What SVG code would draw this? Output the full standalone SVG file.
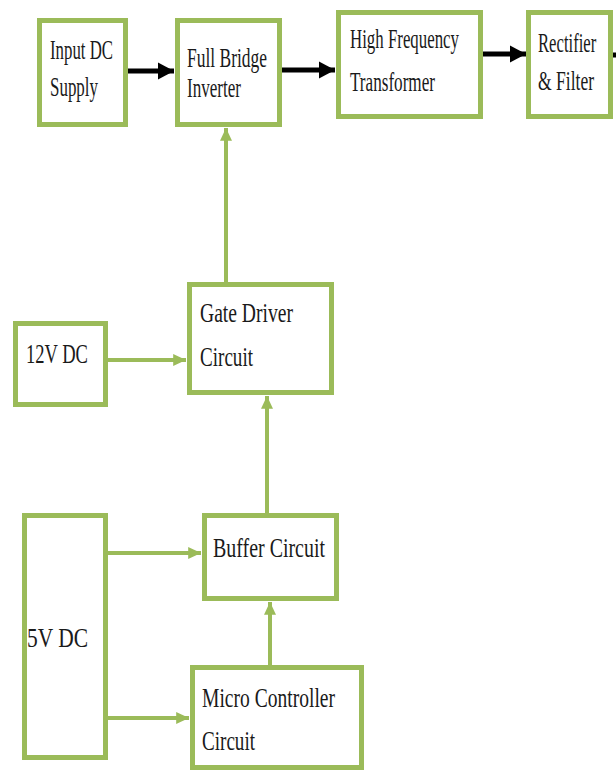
<svg xmlns="http://www.w3.org/2000/svg" width="616" height="772" viewBox="0 0 616 772">
<style>
.box{fill:#ffffff;stroke:#9bbb59;stroke-width:5}
.bk{stroke:#000;stroke-width:5;fill:none}
.gr{stroke:#9bbb59;stroke-width:4;fill:none}
</style>
<defs>
<marker id="ab" markerWidth="4" markerHeight="4" refX="3.2" refY="2" orient="auto" markerUnits="strokeWidth">
<path d="M0,0.3 L3.2,2 L0,3.7 Z" fill="#000"/>
</marker>
<marker id="ag" markerWidth="4" markerHeight="4" refX="3.2" refY="2" orient="auto" markerUnits="strokeWidth">
<path d="M0,0.5 L3.2,2 L0,3.5 Z" fill="#9bbb59"/>
</marker>
</defs>
<rect width="616" height="772" fill="#ffffff"/>
<g id="connectors">
<line class="bk" x1="128" y1="71" x2="174" y2="71" marker-end="url(#ab)"/>
<line class="bk" x1="282" y1="70" x2="335" y2="70" marker-end="url(#ab)"/>
<line class="bk" x1="483" y1="54" x2="526" y2="54" marker-end="url(#ab)"/>
<line class="bk" x1="613" y1="55" x2="616" y2="55"/>
<line class="gr" x1="226" y1="282" x2="226" y2="128" marker-end="url(#ag)"/>
<line class="gr" x1="108" y1="360" x2="186" y2="360" marker-end="url(#ag)"/>
<line class="gr" x1="267" y1="513" x2="267" y2="396" marker-end="url(#ag)"/>
<line class="gr" x1="108" y1="553" x2="201" y2="553" marker-end="url(#ag)"/>
<line class="gr" x1="270" y1="665" x2="270" y2="602" marker-end="url(#ag)"/>
<line class="gr" x1="108" y1="718" x2="189" y2="718" marker-end="url(#ag)"/>
</g>
<g font-family="'Liberation Serif', 'DejaVu Serif', serif" font-size="27" fill="#1a1a1a">
<g id="input-dc">
<rect class="box" x="39.5" y="20.5" width="86" height="104"/>
<text x="50" y="59" textLength="63" lengthAdjust="spacingAndGlyphs">Input DC</text>
<text x="50" y="96" textLength="48" lengthAdjust="spacingAndGlyphs">Supply</text>
</g>
<g id="full-bridge">
<rect class="box" x="177.5" y="20.5" width="102" height="104"/>
<text x="187" y="67" textLength="80" lengthAdjust="spacingAndGlyphs">Full Bridge</text>
<text x="187" y="97" textLength="54" lengthAdjust="spacingAndGlyphs">Inverter</text>
</g>
<g id="hf-transformer">
<rect class="box" x="338.5" y="12.5" width="142" height="104"/>
<text x="350" y="48" textLength="109" lengthAdjust="spacingAndGlyphs">High Frequency</text>
<text x="350" y="91" textLength="85" lengthAdjust="spacingAndGlyphs">Transformer</text>
</g>
<g id="rectifier">
<rect class="box" x="528.5" y="12.5" width="82" height="104"/>
<text transform="translate(538,52) scale(0.617,1)" x="0" y="0">Rectifier</text>
<text transform="translate(538,90) scale(0.65,1)" x="0" y="0">&amp; Filter</text>
</g>
<g id="gate-driver">
<rect class="box" x="189.5" y="284.5" width="142" height="108"/>
<text x="200" y="322" textLength="93" lengthAdjust="spacingAndGlyphs">Gate Driver</text>
<text x="200" y="366" textLength="53" lengthAdjust="spacingAndGlyphs">Circuit</text>
</g>
<g id="v12-dc">
<rect class="box" x="15.5" y="323.5" width="90" height="81"/>
<text x="26" y="363" textLength="62" lengthAdjust="spacingAndGlyphs">12V DC</text>
</g>
<g id="buffer">
<rect class="box" x="204.5" y="515.5" width="132" height="83"/>
<text x="213" y="557" textLength="112" lengthAdjust="spacingAndGlyphs">Buffer Circuit</text>
</g>
<g id="v5-dc">
<rect class="box" x="24.5" y="515.5" width="81" height="242"/>
<text x="27" y="647" textLength="61" lengthAdjust="spacingAndGlyphs">5V DC</text>
</g>
<g id="micro-controller">
<rect class="box" x="192.5" y="667.5" width="169" height="100"/>
<text x="202" y="707" textLength="133" lengthAdjust="spacingAndGlyphs">Micro Controller</text>
<text x="202" y="750" textLength="53" lengthAdjust="spacingAndGlyphs">Circuit</text>
</g>
</g>
</svg>
